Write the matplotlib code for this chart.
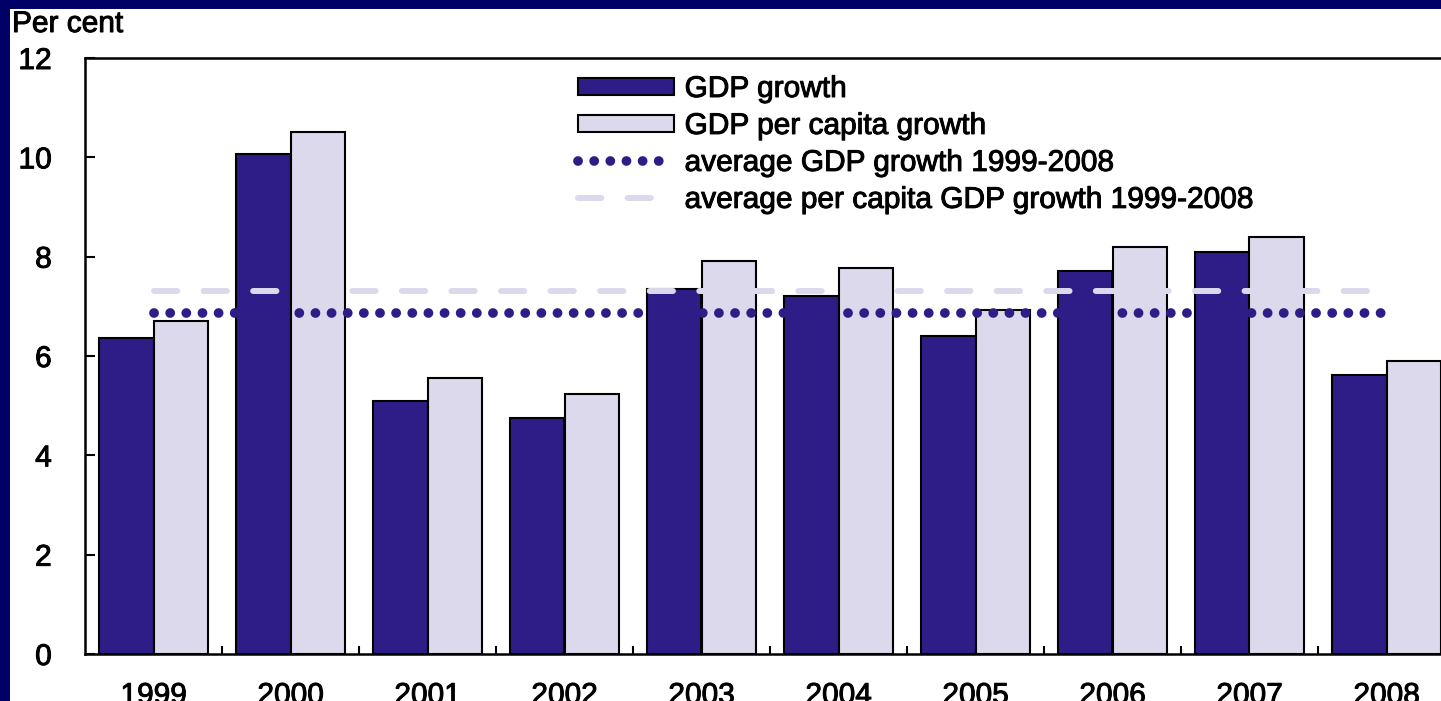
import numpy as np
import matplotlib.pyplot as plt
import matplotlib.patheffects as pe
from matplotlib.patches import Rectangle

plt.rcParams['font.family'] = ['Liberation Sans', 'DejaVu Sans']

# data
years = ['1999', '2000', '2001', '2002', '2003', '2004', '2005', '2006', '2007', '2008']
gdp_growth = [6.36, 10.06, 5.10, 4.75, 7.35, 7.21, 6.40, 7.71, 8.10, 5.62]
gdp_pc_growth = [6.70, 10.52, 5.55, 5.24, 7.92, 7.77, 6.93, 8.19, 8.40, 5.90]
avg_gdp = 6.86
avg_gdp_pc = 7.31

dark = '#2e1d86'
light = '#dbd9eb'
navy = '#000066'
fs = 21.5
thick = [pe.withStroke(linewidth=0.7, foreground='black')]  # slightly heavier text

fig = plt.figure(figsize=(14.41, 7.01), dpi=100, facecolor=navy)
# white panel on the navy slide background
fig.patches.append(Rectangle((10 / 1441, 0), 1, 1 - 9 / 701, transform=fig.transFigure,
                             facecolor='white', edgecolor='none', zorder=-5))

ax = fig.add_axes([85 / 1441, 47 / 701, 1370 / 1441, 596 / 701])
ax.set_facecolor('white')

x = np.arange(len(years))
b1 = ax.bar(x - 0.2, gdp_growth, width=0.4, color=dark, edgecolor='black', linewidth=1.5,
            label='GDP growth', zorder=2)
b2 = ax.bar(x + 0.2, gdp_pc_growth, width=0.4, color=light, edgecolor='black', linewidth=1.5,
            label='GDP per capita growth', zorder=2)

l1, = ax.plot([x[0], x[-1]], [avg_gdp, avg_gdp], color=dark, lw=7,
              linestyle=(0, (0.01, 1.65)), dash_capstyle='round',
              label='average GDP growth 1999-2008', zorder=3)
l2, = ax.plot([x[0], x[-1]], [avg_gdp_pc, avg_gdp_pc], color=light, lw=4.3,
              linestyle=(0, (3.9, 4.4)), dash_capstyle='round',
              label='average per capita GDP growth 1999-2008', zorder=3)

ax.set_xlim(-0.5, len(years) - 0.5)
ax.set_ylim(0, 12)
ax.set_yticks([0, 2, 4, 6, 8, 10, 12])
ax.set_xticks(x)
ax.set_xticklabels(years)
ax.set_xticks(np.arange(0.5, len(years) - 0.5, 1), minor=True)
ax.tick_params(axis='y', direction='in', length=7, width=1.5, labelsize=fs, pad=24)
ax.tick_params(axis='x', which='major', length=0, labelsize=fs, pad=20)
ax.tick_params(axis='x', which='minor', direction='in', length=6, width=1.5)
for s in ['top', 'left', 'bottom', 'right']:
    ax.spines[s].set_linewidth(1.8)
for t in ax.get_xticklabels() + ax.get_yticklabels():
    t.set_path_effects(thick)

fig.text(12 / 1441, 1 - 32 / 701, 'Per cent', fontsize=fs, va='baseline', ha='left',
         path_effects=thick)

leg = ax.legend([b1, b2, l1, l2], [h.get_label() for h in [b1, b2, l1, l2]],
                loc='upper left', bbox_to_anchor=(578 / 1441, 1 - 75 / 701),
                bbox_transform=fig.transFigure, frameon=False, fontsize=fs,
                handlelength=3.2, handleheight=0.5, handletextpad=0.37, labelspacing=0.3,
                borderaxespad=0, borderpad=0)
for t in leg.get_texts():
    t.set_path_effects(thick)

fig.savefig('out.png', dpi=100, facecolor=fig.get_facecolor())
